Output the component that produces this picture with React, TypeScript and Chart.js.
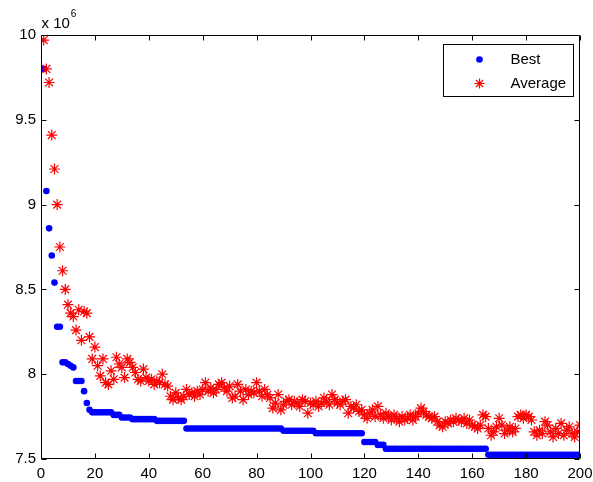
import React, { useEffect, useRef } from "react";
import { Chart, registerables } from "chart.js";

Chart.register(...registerables);

// Values in units of 10^6
const bestValues: number[] = [
  9.80, 9.08, 8.86, 8.70, 8.54, 8.28, 8.28, 8.07, 8.07, 8.06,
  8.05, 8.04, 7.96, 7.96, 7.96, 7.90, 7.83, 7.79, 7.775, 7.775,
  7.775, 7.775, 7.775, 7.775, 7.775, 7.775, 7.76, 7.76, 7.76, 7.745,
  7.745, 7.745, 7.745, 7.735, 7.735, 7.735, 7.735, 7.735, 7.735, 7.735,
  7.735, 7.735, 7.725, 7.725, 7.725, 7.725, 7.725, 7.725, 7.725, 7.725,
  7.725, 7.725, 7.725, 7.68, 7.68, 7.68, 7.68, 7.68, 7.68, 7.68,
  7.68, 7.68, 7.68, 7.68, 7.68, 7.68, 7.68, 7.68, 7.68, 7.68,
  7.68, 7.68, 7.68, 7.68, 7.68, 7.68, 7.68, 7.68, 7.68, 7.68,
  7.68, 7.68, 7.68, 7.68, 7.68, 7.68, 7.68, 7.68, 7.68, 7.667,
  7.667, 7.667, 7.667, 7.667, 7.667, 7.667, 7.667, 7.667, 7.667, 7.667,
  7.667, 7.652, 7.652, 7.652, 7.652, 7.652, 7.652, 7.652, 7.652, 7.652,
  7.652, 7.652, 7.652, 7.652, 7.652, 7.652, 7.652, 7.652, 7.652, 7.60,
  7.60, 7.60, 7.60, 7.60, 7.583, 7.583, 7.583, 7.56, 7.56, 7.56,
  7.56, 7.56, 7.56, 7.56, 7.56, 7.56, 7.56, 7.56, 7.56, 7.56,
  7.56, 7.56, 7.56, 7.56, 7.56, 7.56, 7.56, 7.56, 7.56, 7.56,
  7.56, 7.56, 7.56, 7.56, 7.56, 7.56, 7.56, 7.56, 7.56, 7.56,
  7.56, 7.56, 7.56, 7.56, 7.56, 7.525, 7.525, 7.525, 7.525, 7.525,
  7.525, 7.525, 7.525, 7.525, 7.525, 7.525, 7.525, 7.525, 7.525, 7.525,
  7.525, 7.525, 7.525, 7.525, 7.525, 7.525, 7.525, 7.525, 7.525, 7.525,
  7.525, 7.525, 7.525, 7.525, 7.525, 7.525, 7.525, 7.525, 7.525, 7.525,
];

const averageValues: number[] = [
  9.97, 9.80, 9.72, 9.41, 9.21, 9.00, 8.75, 8.61, 8.50, 8.41,
  8.36, 8.34, 8.26, 8.38, 8.20, 8.37, 8.36, 8.22, 8.09, 8.16,
  8.05, 7.99, 8.09, 7.95, 7.94, 8.02, 7.97, 8.10, 8.06, 8.04,
  7.98, 8.09, 8.07, 8.04, 8.01, 7.97, 7.96, 8.03, 7.98, 7.96,
  7.97, 7.94, 7.96, 7.95, 8.00, 7.94, 7.93, 7.87, 7.85, 7.89,
  7.86, 7.85, 7.87, 7.91, 7.88, 7.89, 7.87, 7.90, 7.88, 7.91,
  7.95, 7.90, 7.92, 7.89, 7.91, 7.94, 7.95, 7.92, 7.90, 7.93,
  7.86, 7.87, 7.94, 7.90, 7.85, 7.91, 7.88, 7.90, 7.89, 7.95,
  7.90, 7.87, 7.91, 7.88, 7.86, 7.80, 7.83, 7.88, 7.79, 7.82,
  7.84, 7.85, 7.82, 7.84, 7.83, 7.81, 7.85, 7.84, 7.77, 7.83,
  7.82, 7.84, 7.81, 7.83, 7.86, 7.84, 7.82, 7.88, 7.85, 7.83,
  7.82, 7.84, 7.85, 7.77, 7.81, 7.80, 7.82, 7.78, 7.79, 7.76,
  7.74, 7.77, 7.79, 7.75, 7.81, 7.76, 7.74, 7.77, 7.75, 7.73,
  7.76, 7.74, 7.72, 7.75, 7.73, 7.74, 7.76, 7.73, 7.75, 7.77,
  7.80, 7.78, 7.76, 7.75, 7.74, 7.75, 7.72, 7.70, 7.69, 7.72,
  7.71, 7.73, 7.72, 7.74, 7.73, 7.72, 7.74, 7.71, 7.73, 7.70,
  7.69, 7.68, 7.70, 7.76, 7.75, 7.68, 7.64, 7.66, 7.69, 7.74,
  7.70, 7.65, 7.67, 7.69, 7.66, 7.68, 7.75, 7.76, 7.74, 7.76,
  7.75, 7.73, 7.66, 7.64, 7.67, 7.65, 7.72, 7.70, 7.66, 7.63,
  7.68, 7.65, 7.71, 7.64, 7.67, 7.69, 7.65, 7.63, 7.66, 7.70,
];

const generations: number[] = bestValues.map((_, i) => i + 1);

const seriesLabels = ["Best", "Average"];
const xMin = 0;
const xMax = 200;
const xStep = 20;
const yMin = 7.5;
const yMax = 10;
const yStep = 0.5;
const exponentBase = "x 10";
const exponentPower = "6";

const FONT = "'Liberation Sans', Arial, sans-serif";
const BLUE = "#0000ff";
const RED = "#ff0000";

function drawStar(ctx: CanvasRenderingContext2D, x: number, y: number, r: number) {
  ctx.beginPath();
  ctx.moveTo(x - r, y);
  ctx.lineTo(x + r, y);
  ctx.moveTo(x, y - r);
  ctx.lineTo(x, y + r);
  const d = r * Math.SQRT1_2;
  ctx.moveTo(x - d, y - d);
  ctx.lineTo(x + d, y + d);
  ctx.moveTo(x - d, y + d);
  ctx.lineTo(x + d, y - d);
  ctx.stroke();
}

const matlabFrame = {
  id: "matlabFrame",
  afterDatasetsDraw(chart: any) {
    const { ctx, chartArea: a, scales } = chart;
    ctx.save();
    ctx.strokeStyle = "#000";
    ctx.lineWidth = 1;
    const L = Math.round(a.left) + 0.5;
    const R = Math.round(a.right) - 0.5;
    const T = Math.round(a.top) + 0.5;
    const B = Math.round(a.bottom) - 0.5;
    ctx.beginPath();
    ctx.rect(L, T, R - L, B - T);
    ctx.stroke();

    const tl = 5;
    ctx.beginPath();
    scales.x.ticks.forEach((t: any) => {
      const px = Math.round(scales.x.getPixelForValue(t.value)) + 0.5;
      ctx.moveTo(px, B);
      ctx.lineTo(px, B - tl);
      ctx.moveTo(px, T);
      ctx.lineTo(px, T + tl);
    });
    scales.y.ticks.forEach((t: any) => {
      const py = Math.round(scales.y.getPixelForValue(t.value)) + 0.5;
      ctx.moveTo(L, py);
      ctx.lineTo(L + tl, py);
      ctx.moveTo(R, py);
      ctx.lineTo(R - tl, py);
    });
    ctx.stroke();

    // exponent label
    ctx.fillStyle = "#000";
    ctx.textBaseline = "alphabetic";
    ctx.textAlign = "left";
    ctx.font = `15px ${FONT}`;
    const ex = a.left + 0.5;
    ctx.fillText(exponentBase, ex, a.top - 7);
    const w = ctx.measureText(exponentBase).width;
    ctx.font = `10px ${FONT}`;
    ctx.fillText(exponentPower, ex + w + 1, a.top - 18);

    // legend
    const boxW = 130;
    const boxH = 52;
    const bx = Math.round(a.right - 7 - boxW) + 0.5;
    const by = Math.round(a.top + 9) + 0.5;
    ctx.fillStyle = "#fff";
    ctx.fillRect(bx, by, boxW, boxH);
    ctx.strokeStyle = "#000";
    ctx.strokeRect(bx, by, boxW, boxH);

    const mx = bx + 36;
    const row1 = by + 15;
    const row2 = by + 39;
    ctx.fillStyle = BLUE;
    ctx.beginPath();
    ctx.arc(mx, row1, 3.3, 0, Math.PI * 2);
    ctx.fill();
    ctx.strokeStyle = RED;
    ctx.lineWidth = 1.2;
    drawStar(ctx, mx, row2, 5);

    ctx.fillStyle = "#000";
    ctx.font = `15px ${FONT}`;
    ctx.textBaseline = "middle";
    ctx.fillText(seriesLabels[0], bx + 67, row1);
    ctx.fillText(seriesLabels[1], bx + 67, row2);
    ctx.restore();
  },
};

export default function App() {
  const canvasRef = useRef<HTMLCanvasElement | null>(null);

  useEffect(() => {
    if (!canvasRef.current) return;
    const chart = new Chart(canvasRef.current, {
      type: "scatter",
      data: {
        datasets: [
          {
            label: seriesLabels[0],
            data: generations.map((g, i) => ({ x: g, y: bestValues[i] })),
            pointStyle: "circle",
            pointRadius: 3.3,
            pointBorderWidth: 0,
            backgroundColor: BLUE,
            borderColor: BLUE,
            order: 1,
          },
          {
            label: seriesLabels[1],
            data: generations.map((g, i) => ({ x: g, y: averageValues[i] })),
            pointStyle: "star",
            pointRadius: 5.5,
            pointBorderWidth: 1.2,
            backgroundColor: RED,
            borderColor: RED,
            order: 0,
          },
        ],
      },
      options: {
        responsive: false,
        animation: false,
        devicePixelRatio: 1,
        layout: { padding: { top: 35, right: 13, left: 0, bottom: 0 } },
        plugins: {
          legend: { display: false },
          tooltip: { enabled: false },
        },
        scales: {
          x: {
            type: "linear",
            min: xMin,
            max: xMax,
            grid: { display: false, drawTicks: false },
            border: { display: false },
            ticks: {
              stepSize: xStep,
              color: "#000",
              padding: 6,
              font: { family: FONT, size: 15 },
              maxRotation: 0,
            },
            afterFit: (s: any) => {
              s.height = 23;
              s.paddingLeft = 0;
              s.paddingRight = 0;
            },
          },
          y: {
            type: "linear",
            min: yMin,
            max: yMax,
            grid: { display: false, drawTicks: false },
            border: { display: false },
            ticks: {
              stepSize: yStep,
              color: "#000",
              padding: 5,
              font: { family: FONT, size: 15 },
              callback: (v: any) => String(Math.round(Number(v) * 10) / 10),
            },
            afterFit: (s: any) => {
              s.width = 41;
              s.paddingTop = 0;
              s.paddingBottom = 0;
            },
          },
        },
      },
      plugins: [matlabFrame],
    });
    return () => chart.destroy();
  }, []);

  return (
    <div style={{ position: "fixed", left: 0, top: 0, width: 593, height: 482, background: "#fff" }}>
      <canvas ref={canvasRef} width={593} height={482} style={{ display: "block" }} />
    </div>
  );
}
